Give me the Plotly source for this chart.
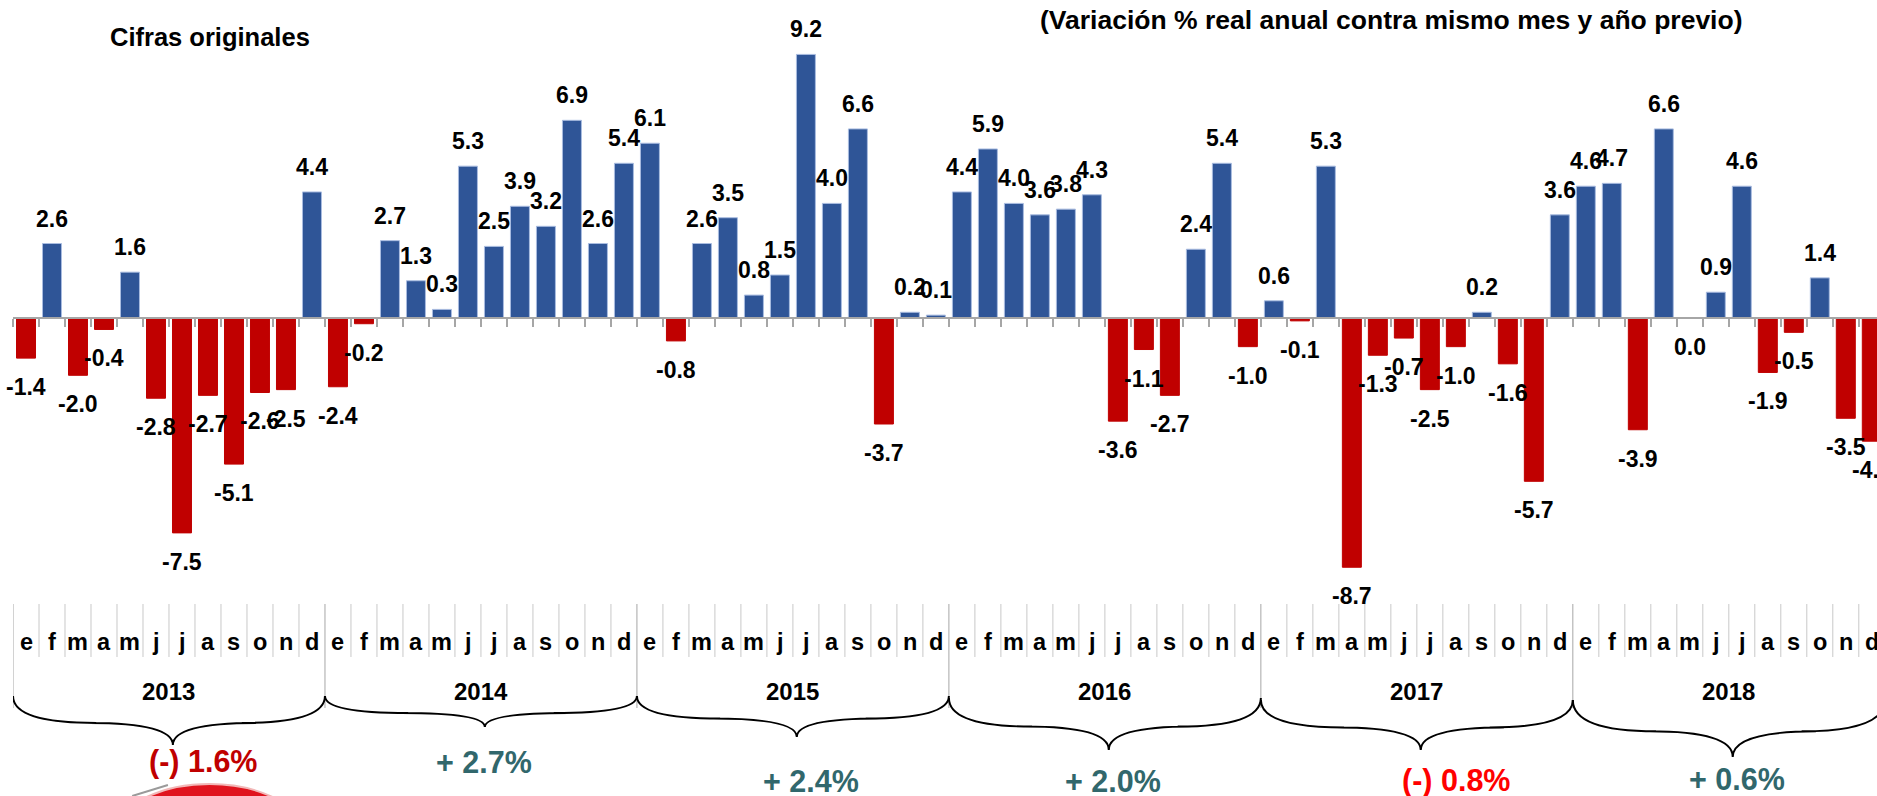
import plotly.graph_objects as go

# ---------------- data ----------------
years = ["2013", "2014", "2015", "2016", "2017", "2018"]
months = ["e", "f", "m", "a", "m", "j", "j", "a", "s", "o", "n", "d"]
values = [
    # 2013
    -1.4, 2.6, -2.0, -0.4, 1.6, -2.8, -7.5, -2.7, -5.1, -2.6, -2.5, 4.4,
    # 2014
    -2.4, -0.2, 2.7, 1.3, 0.3, 5.3, 2.5, 3.9, 3.2, 6.9, 2.6, 5.4,
    # 2015
    6.1, -0.8, 2.6, 3.5, 0.8, 1.5, 9.2, 4.0, 6.6, -3.7, 0.2, 0.1,
    # 2016
    4.4, 5.9, 4.0, 3.6, 3.8, 4.3, -3.6, -1.1, -2.7, 2.4, 5.4, -1.0,
    # 2017
    0.6, -0.1, 5.3, -8.7, -1.3, -0.7, -2.5, -1.0, 0.2, -1.6, -5.7, 3.6,
    # 2018
    4.6, 4.7, -3.9, 6.6, 0.0, 0.9, 4.6, -1.9, -0.5, 1.4, -3.5, -4.3,
]
annual_labels = ["(-) 1.6%", "+ 2.7%", "+ 2.4%", "+ 2.0%", "(-) 0.8%", "+ 0.6%"]
annual_sign = [-1, 1, 1, 1, -1, 1]

# ---------------- layout / style parameters ----------------
W, H = 1877, 796
PX_PER_UNIT = 28.65
ZERO_PX = 318
y_max = ZERO_PX / PX_PER_UNIT
y_min = y_max - H / PX_PER_UNIT

def py(px):
    return 1 - px / H

BLUE = "#2F5597"
RED = "#C00000"
FONT = "Liberation Sans, Arial, sans-serif"

# per-year decoration positions (pixels) & offsets
brace_top_px = [696, 696, 696, 698, 700, 700]
brace_tip_px = [745, 727, 737, 750, 750, 757]
label_px = [761, 762, 781, 781, 780, 779]
label_dx = [1.3, 0.1, 0.7, 0.3, 1.5, 0.3]
neg_colors = ["#C00000", "#C00000", "#C00000", "#C00000", "#FF0000", "#C00000"]
POS_COLOR = "#31676C"

n = len(values)
x = list(range(n))
bar_colors = [BLUE if v >= 0 else RED for v in values]
line_colors = ["#A9BCE0" if v >= 0 else RED for v in values]

fig = go.Figure()
fig.add_trace(go.Bar(
    x=x, y=values,
    marker=dict(color=bar_colors, line=dict(color=line_colors, width=1)),
    hoverinfo="skip",
))

annotations = []
# value labels
for i, v in enumerate(values):
    annotations.append(dict(
        x=i, y=v, xref="x", yref="y", text=f"{v:.1f}", showarrow=False,
        xanchor="center", yanchor="middle",
        yshift=25 if v > 0 else -29,
        font=dict(family=FONT, size=23, color="black", weight="bold"),
    ))

# month letters
for i in range(n):
    annotations.append(dict(
        x=i, y=py(642), xref="x", yref="paper", text=months[i % 12],
        showarrow=False, xanchor="center", yanchor="middle",
        font=dict(family=FONT, size=23.5, color="black", weight="bold"),
    ))

shapes = []
# month table lines
for b in range(n + 1):
    xb = b - 0.5
    if b % 12 == 0:
        shapes.append(dict(type="line", xref="x", yref="paper", x0=xb, x1=xb,
                           y0=py(604), y1=py(708), line=dict(color="#A6A6A6", width=1)))
    else:
        shapes.append(dict(type="line", xref="x", yref="paper", x0=xb, x1=xb,
                           y0=py(604), y1=py(657), line=dict(color="#C8C8C8", width=1)))

# years, braces, annual labels
for k, yr in enumerate(years):
    c = k * 12 + 5.5
    annotations.append(dict(
        x=c, y=py(691), xref="x", yref="paper", text=yr, showarrow=False,
        xanchor="center", yanchor="middle",
        font=dict(family=FONT, size=24, color="black", weight="bold"),
    ))
    xl, xr = k * 12 - 0.5, k * 12 + 11.5
    xc = c + 0.15
    y0 = py(brace_top_px[k])
    y1 = py(brace_tip_px[k])
    ym = y0 + (y1 - y0) * 0.55
    w = 3.2
    path = (f"M {xl},{y0} Q {xl},{ym} {xl + w},{ym} "
            f"L {xc - w},{ym} Q {xc},{ym} {xc},{y1} "
            f"Q {xc},{ym} {xc + w},{ym} "
            f"L {xr - w},{ym} Q {xr},{ym} {xr},{y0}")
    shapes.append(dict(type="path", xref="x", yref="paper", path=path,
                       line=dict(color="black", width=2)))
    col = neg_colors[k] if annual_sign[k] < 0 else POS_COLOR
    annotations.append(dict(
        x=c + label_dx[k], y=py(label_px[k]), xref="x", yref="paper",
        text=annual_labels[k], showarrow=False, xanchor="center", yanchor="middle",
        font=dict(family=FONT, size=30.5, color=col, weight="bold"),
    ))

# titles
annotations.append(dict(
    x=198 / W, y=py(37), xref="paper", yref="paper", text="Cifras originales",
    showarrow=False, xanchor="center", yanchor="middle",
    font=dict(family=FONT, size=25.5, color="black", weight="bold"),
))
annotations.append(dict(
    x=1388 / W, y=py(20), xref="paper", yref="paper",
    text="(Variación % real anual contra mismo mes y año previo)",
    showarrow=False, xanchor="center", yanchor="middle",
    font=dict(family=FONT, size=26.5, color="black", weight="bold"),
))

# red logo fragment at bottom
shapes.append(dict(type="circle", xref="paper", yref="paper",
                   x0=92 / W, x1=304 / W, y0=py(784), y1=py(916),
                   fillcolor="#E0141E", line=dict(color="#F2B8B8", width=2), layer="above"))
shapes.append(dict(type="line", xref="paper", yref="paper",
                   x0=120 / W, x1=156 / W, y0=py(796), y1=py(785),
                   line=dict(color="#9A9A9A", width=2)))

zero_pos = (0 - y_min) / (y_max - y_min)

fig.update_layout(
    width=W, height=H,
    margin=dict(l=13, r=0, t=0, b=0),
    paper_bgcolor="white", plot_bgcolor="white",
    showlegend=False, bargap=0.27,
    annotations=annotations, shapes=shapes,
    xaxis=dict(range=[-0.5, 71.2], anchor="free", position=zero_pos,
               showline=True, linecolor="#A6A6A6", linewidth=2,
               ticks="outside", ticklen=8, tickcolor="#A6A6A6", tickwidth=2,
               tickvals=[b - 0.5 for b in range(n + 1)], showticklabels=False,
               showgrid=False, zeroline=False, fixedrange=True),
    yaxis=dict(range=[y_min, y_max], visible=False, showgrid=False,
               zeroline=False, fixedrange=True),
)

fig.write_html(
    "out.html",
    config={"displayModeBar": False},
    post_script="document.body.style.margin='0px';document.body.style.overflow='hidden';",
)
